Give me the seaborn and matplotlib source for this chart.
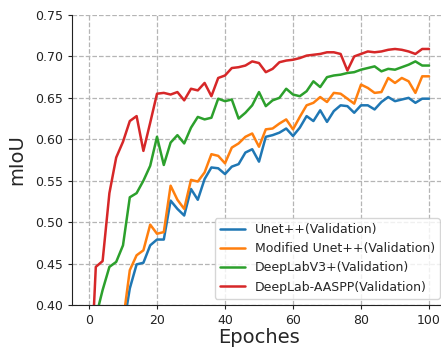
import numpy as np
import pandas as pd
import matplotlib
matplotlib.use("Agg")
import matplotlib.pyplot as plt
import seaborn as sns

# Validation mIoU, recorded every 2 epochs
epochs = list(range(0, 101, 2))

unetpp = [0.290, 0.310, 0.320, 0.340, 0.350, 0.370, 0.420, 0.449, 0.451, 0.472,
          0.479, 0.479, 0.526, 0.516, 0.508, 0.540, 0.527, 0.552, 0.566, 0.565,
          0.558, 0.567, 0.570, 0.584, 0.588, 0.573, 0.603, 0.605, 0.608, 0.613,
          0.604, 0.614, 0.628, 0.622, 0.635, 0.621, 0.634, 0.641, 0.640, 0.632,
          0.641, 0.641, 0.636, 0.645, 0.651, 0.646, 0.648, 0.650, 0.644, 0.649,
          0.649]

modified_unetpp = [0.300, 0.320, 0.340, 0.350, 0.360, 0.380, 0.442, 0.460, 0.466, 0.497,
                   0.486, 0.488, 0.544, 0.527, 0.516, 0.551, 0.549, 0.560, 0.582, 0.580,
                   0.571, 0.590, 0.595, 0.603, 0.607, 0.591, 0.612, 0.613, 0.619, 0.624,
                   0.612, 0.627, 0.641, 0.644, 0.651, 0.645, 0.656, 0.655, 0.649, 0.643,
                   0.666, 0.662, 0.656, 0.657, 0.674, 0.668, 0.674, 0.670, 0.656, 0.676,
                   0.676]

deeplabv3p = [0.350, 0.385, 0.418, 0.446, 0.452, 0.472, 0.530, 0.535, 0.550, 0.568,
              0.603, 0.569, 0.596, 0.605, 0.595, 0.614, 0.627, 0.624, 0.626, 0.649,
              0.646, 0.648, 0.625, 0.632, 0.641, 0.657, 0.640, 0.647, 0.650, 0.661,
              0.654, 0.652, 0.658, 0.670, 0.663, 0.675, 0.677, 0.678, 0.680, 0.681,
              0.684, 0.686, 0.688, 0.682, 0.685, 0.684, 0.687, 0.690, 0.694, 0.689,
              0.689]

deeplab_aaspp = [0.270, 0.446, 0.453, 0.535, 0.578, 0.597, 0.622, 0.628, 0.586, 0.620,
                 0.655, 0.656, 0.654, 0.657, 0.647, 0.661, 0.659, 0.668, 0.652, 0.674,
                 0.677, 0.686, 0.687, 0.689, 0.694, 0.692, 0.681, 0.685, 0.693, 0.695,
                 0.696, 0.698, 0.701, 0.702, 0.703, 0.705, 0.705, 0.703, 0.683, 0.700,
                 0.703, 0.706, 0.705, 0.706, 0.708, 0.709, 0.708, 0.706, 0.703, 0.709,
                 0.709]

labels = ["Unet++(Validation)", "Modified Unet++(Validation)",
          "DeepLabV3+(Validation)", "DeepLab-AASPP(Validation)"]
colors = ["#1f77b4", "#ff7f0e", "#2ca02c", "#d62728"]
series = [unetpp, modified_unetpp, deeplabv3p, deeplab_aaspp]

df = pd.concat(
    [pd.DataFrame({"Epoch": epochs, "mIoU": vals, "Model": name})
     for name, vals in zip(labels, series)],
    ignore_index=True,
)

sns.set_style("ticks")
plt.rcParams.update({
    "font.family": ["DejaVu Sans"],
    "axes.edgecolor": "#222222",
    "xtick.color": "#222222",
    "ytick.color": "#222222",
})

fig = plt.figure(figsize=(4.41, 3.50), dpi=100)
ax = fig.add_axes([72 / 441, 45 / 350, 374 / 441, 290 / 350])

sns.lineplot(data=df, x="Epoch", y="mIoU", hue="Model", palette=colors,
             linewidth=1.8, ax=ax)

ax.set_xlim(-5, 105)
ax.set_ylim(0.40, 0.75)
ax.set_xticks([0, 20, 40, 60, 80, 100])
ax.set_yticks(np.arange(0.40, 0.751, 0.05))
ax.set_yticklabels([f"{v:.2f}" for v in np.arange(0.40, 0.751, 0.05)])
ax.tick_params(labelsize=9, length=3, width=0.8)
ax.grid(True, linestyle="--", color="#b5b5b5", linewidth=0.9)
ax.set_axisbelow(True)
sns.despine(ax=ax)

ax.set_xlabel("Epoches", fontsize=14, labelpad=1)
ax.set_ylabel("mIoU", fontsize=14, labelpad=6)

leg = ax.legend(loc="lower right", fontsize=9, frameon=True, handlelength=2.0)
leg.get_frame().set_edgecolor("#cccccc")

fig.savefig("out.png", dpi=100)
